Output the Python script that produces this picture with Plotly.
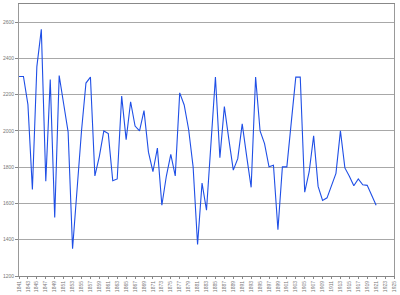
import plotly.graph_objects as go

years = [str(y) for y in range(1841, 1926)]
values = [2300, 2300, 2145, 1677, 2355, 2560, 1722, 2283, 1523, 2305,
          2150, 1995, 1350, 1700, 2000, 2264, 2297, 1752, 1860, 2000,
          1985, 1725, 1735, 2192, 1952, 2161, 2027, 2000, 2112, 1883,
          1775, 1905, 1590, 1750, 1871, 1752, 2210, 2143, 2008, 1802,
          1374, 1712, 1563, 1930, 2297, 1852, 2134, 1955, 1784, 1847,
          2039, 1860, 1689, 2297, 2000, 1930, 1802, 1811, 1455, 1802,
          1802, 2050, 2297, 2297, 1662, 1775, 1973, 1694, 1617, 1631,
          1700, 1766, 2000, 1796, 1750, 1698, 1735, 1703, 1700, 1645,
          1590]
y_ticks = [1200, 1400, 1600, 1800, 2000, 2200, 2400, 2600]
x_ticks = years[::2]

fig = go.Figure()
fig.add_trace(go.Scatter(x=years[:len(values)], y=values, mode="lines",
                         line=dict(color="#1f4fe6", width=1.1),
                         showlegend=False, hoverinfo="skip"))

fig.update_layout(
    width=400, height=295,
    margin=dict(l=17, r=6, t=3, b=15),
    paper_bgcolor="white", plot_bgcolor="white",
    font=dict(family="Arial, Liberation Sans, sans-serif", size=5, color="#555555"),
)
fig.update_xaxes(
    type="category", categoryorder="array", categoryarray=years,
    range=[0, len(years) - 1],
    tickmode="array", tickvals=x_ticks, ticktext=x_ticks,
    tickangle=-90, tickfont=dict(size=5, color="#777777"),
    ticks="outside", ticklen=2, tickcolor="#888888",
    showgrid=False, showline=True, linecolor="#888888", linewidth=1,
    mirror=True, zeroline=False,
)
fig.update_yaxes(
    range=[1200, 2700], tickmode="array", tickvals=y_ticks,
    ticktext=[str(v) for v in y_ticks],
    tickfont=dict(size=5, color="#777777"),
    ticks="outside", ticklen=3, tickcolor="#888888",
    showgrid=True, gridcolor="#a8a8a8", gridwidth=1,
    showline=True, linecolor="#999999", linewidth=1, mirror=True,
    zeroline=False,
)

fig.write_html("out.html")
